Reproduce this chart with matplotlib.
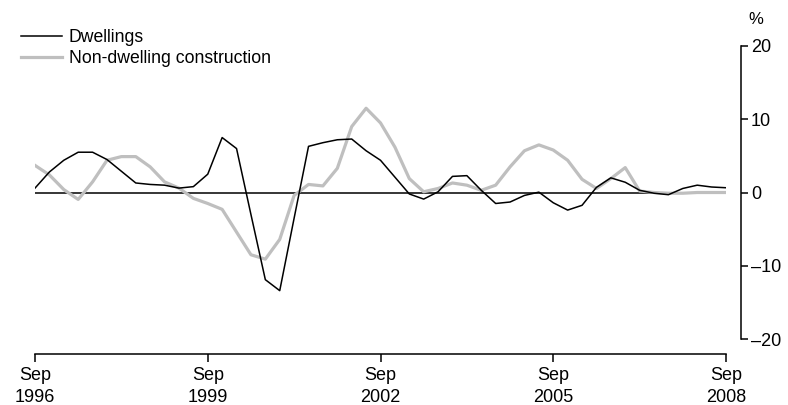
import matplotlib
matplotlib.use('Agg')
from matplotlib import pyplot as plt

# quarterly % change, Sep 1996 to Sep 2008
quarters = list(range(49))
dwellings = [0.6, 2.8, 4.4, 5.5, 5.5, 4.5, 2.9, 1.3, 1.1, 1.0,
             0.6, 0.8, 2.5, 7.5, 6.0, -3.0, -11.9, -13.4, -3.5, 6.3,
             6.8, 7.2, 7.3, 5.7, 4.4, 2.1, -0.2, -0.9, 0.1, 2.2,
             2.3, 0.3, -1.5, -1.3, -0.4, 0.05, -1.4, -2.4, -1.75, 0.7,
             2.0, 1.4, 0.3, -0.1, -0.3, 0.55, 1.0, 0.75, 0.65]
non_dwelling = [3.7, 2.4, 0.4, -0.95, 1.45, 4.4, 4.9, 4.9, 3.5, 1.45,
                0.6, -0.8, -1.5, -2.3, -5.4, -8.5, -9.1, -6.4, -0.4, 1.1,
                0.9, 3.3, 9.0, 11.5, 9.5, 6.2, 1.9, 0.1, 0.55, 1.3,
                1.0, 0.3, 1.0, 3.5, 5.7, 6.5, 5.8, 4.4, 1.8, 0.55,
                1.9, 3.4, 0.2, 0.0, -0.1, -0.1, 0.0, 0.0, 0.0]

tick_pos = [0, 12, 24, 36, 48]
tick_labels = ['Sep\n1996', 'Sep\n1999', 'Sep\n2002', 'Sep\n2005', 'Sep\n2008']

plt.rcParams['font.family'] = ['Liberation Sans', 'DejaVu Sans']

fig = plt.figure(figsize=(7.88, 4.05), dpi=100)
ax = fig.add_axes([35 / 788, 66 / 405, 691 / 788, 293 / 405])

ax.axhline(0, color='black', lw=1.1, zorder=1)
ax.plot(quarters, non_dwelling, color='#bfbfbf', lw=2.3, label='Non-dwelling construction', zorder=2)
ax.plot(quarters, dwellings, color='black', lw=1.1, label='Dwellings', zorder=3)

ax.set_xlim(0, 48)
ax.set_ylim(-20, 20)

# axes styling
for s in ['top', 'left']:
    ax.spines[s].set_visible(False)
ax.spines['bottom'].set_position(('outward', 11))
ax.spines['bottom'].set_bounds(0, 48)
ax.spines['right'].set_position(('outward', 11))
ax.spines['right'].set_bounds(-20, 20)
ax.spines['bottom'].set_linewidth(1.1)
ax.spines['right'].set_linewidth(1.1)

ax.yaxis.tick_right()
ax.set_yticks([-20, -10, 0, 10, 20])
ax.set_yticklabels(['\u201320', '\u201310', '0', '10', '20'])
ax.tick_params(axis='y', direction='out', length=5, width=1.1, labelsize=13, pad=2)

ax.set_xticks(tick_pos)
ax.set_xticklabels(tick_labels, linespacing=1.4)
ax.tick_params(axis='x', direction='out', length=6, width=1.1, labelsize=13, pad=3)

fig.text(748 / 788, 1 - 20 / 405, '%', fontsize=12, va='center', ha='left')

handles, labels = ax.get_legend_handles_labels()
leg = ax.legend(handles[::-1], labels[::-1], loc='upper left',
                bbox_to_anchor=(21 / 788, 1 - 29 / 405), bbox_transform=fig.transFigure,
                frameon=False, fontsize=12.7, handlelength=2.3, handletextpad=0.4,
                labelspacing=0.25, borderaxespad=0, borderpad=0)

plt.savefig('out.png', dpi=100)
